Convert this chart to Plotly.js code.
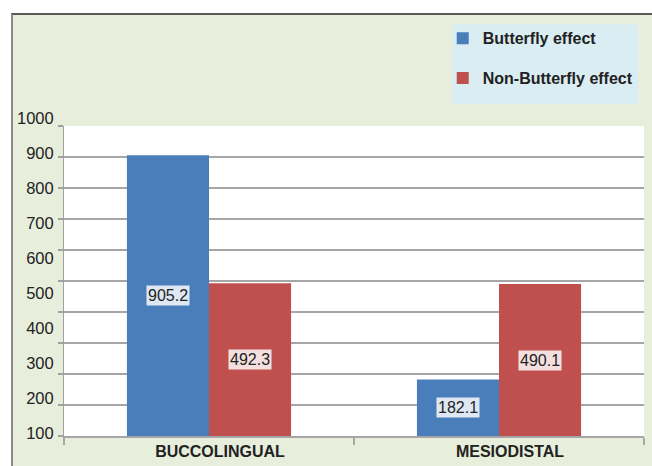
<!DOCTYPE html>
<html>
<head>
<meta charset="utf-8">
<script src="https://cdn.plot.ly/plotly-3.0.1.min.js"></script>
<style>
  html, body { margin: 0; padding: 0; background: #ffffff; width: 652px; height: 466px; overflow: hidden; }
  #frame { position: absolute; left: 11px; top: 13px; border-top: 2px solid #5a5a5a; border-left: 2px solid #8a8a8a; }
  #chart { width: 639px; height: 451px; }
</style>
</head>
<body>
<div id="frame"><div id="chart"></div></div>
<script>
// ---- data ----
const categories = ['BUCCOLINGUAL', 'MESIODISTAL'];
const seriesNames = ['Butterfly effect', 'Non-Butterfly effect'];
const butterfly = [905.2, 182.1];
const nonButterfly = [492.3, 490.1];
const yTickValues = [100, 200, 300, 400, 500, 600, 700, 800, 900, 1000];
const yTickLabels = ['100', '200', '300', '400', '500', '600', '700', '800', '900', '1000'];

const colors = ['#4a7ebb', '#c0504d'];
const labelBg = ['rgba(255,255,255,0.82)', 'rgba(255,255,255,0.82)'];
const font = 'Liberation Sans, Arial, sans-serif';
const series = [butterfly, nonButterfly];

const traces = series.map((vals, i) => ({
  type: 'bar',
  name: seriesNames[i],
  x: categories,
  y: vals,
  marker: { color: colors[i], line: { width: 0 } },
  legendgroup: 'g' + i,
  hoverinfo: 'skip'
}));
// helper trace so the label axis (y2) is drawn
traces.push({ type: 'scatter', x: [], y: [], yaxis: 'y2', showlegend: false, hoverinfo: 'skip' });

const annotations = [];
series.forEach((vals, i) => {
  vals.forEach((v, j) => {
    annotations.push({
      x: categories[j], y: v / 2, xref: 'x', yref: 'y',
      xshift: i === 0 ? -41 : 41,
      text: v.toFixed(1), showarrow: false,
      font: { family: font, size: 16, color: '#222222' },
      bgcolor: labelBg[i], borderpad: 1
    });
  });
});

const layout = {
  width: 639, height: 451,
  margin: { l: 51, r: 8, t: 95, b: 30 },
  paper_bgcolor: '#e8eedc',
  plot_bgcolor: 'rgba(0,0,0,0)',
  barmode: 'group',
  bargap: 0.434,
  bargroupgap: 0,
  showlegend: true,
  legend: {
    x: 0.653, y: 1.272, xanchor: 'left', yanchor: 'top',
    bgcolor: 'rgba(0,0,0,0)',
    traceorder: 'grouped', tracegroupgap: 16,
    font: { family: font, size: 16, color: '#222222', weight: 'bold' }
  },
  xaxis: {
    type: 'category',
    range: [-0.5, 1.5],
    showline: true, linecolor: '#a6a6a6', linewidth: 2,
    ticks: 'outside', tickson: 'boundaries', ticklen: 7, tickwidth: 2, tickcolor: '#a6a6a6',
    showgrid: false, zeroline: false,
    tickfont: { family: font, size: 16, color: '#222222', weight: 'bold' },
    ticklabelstandoff: 0,
    ticklabelshift: 11
  },
  yaxis: {
    domain: [0, 0.954],
    range: [0, 1000], dtick: 100, tick0: 0,
    showticklabels: false,
    showline: true, linecolor: '#a0a0a0', linewidth: 1.5,
    ticks: 'outside', ticklen: 5, tickwidth: 1.5, tickcolor: '#a0a0a0',
    showgrid: true, gridcolor: '#a6a6a6', gridwidth: 1.5,
    zeroline: false
  },
  yaxis2: {
    domain: [0, 1], anchor: 'x',
    range: [91.5, 1020],
    tickmode: 'array', tickvals: yTickValues, ticktext: yTickLabels,
    showline: false, showgrid: false, zeroline: false,
    ticks: 'outside', ticklen: 6, tickcolor: 'rgba(0,0,0,0)',
    tickfont: { family: font, size: 16.5, color: '#222222' }
  },
  shapes: [
    { type: 'rect', xref: 'x domain', yref: 'y domain', x0: 0, x1: 1, y0: 0, y1: 1,
      fillcolor: '#ffffff', line: { width: 0 }, layer: 'below' },
    { type: 'rect', xref: 'paper', yref: 'paper', x0: 0.669, x1: 0.990, y0: 1.0215, y1: 1.2669,
      fillcolor: '#daedf2', line: { width: 0 }, layer: 'below' }
  ],
  annotations: annotations
};

Plotly.newPlot('chart', traces, layout, { displayModeBar: false, staticPlot: true });
</script>
</body>
</html>
